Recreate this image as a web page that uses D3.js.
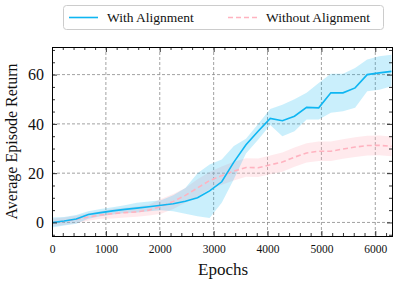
<!DOCTYPE html>
<meta charset="utf-8">
<style>
    body { margin: 0; background: #fff; }
    text { font-family: "Liberation Serif", "DejaVu Serif", serif; fill: #111; }
    .grid line { stroke: #8a8a8a; stroke-width: 0.8; stroke-dasharray: 3, 2; }
</style>
<svg id="mainSVG" width="398" height="284"></svg>
<script src="https://d3js.org/d3.v7.min.js"></script>
<script>
    // epochs at which both runs were evaluated
    var epochs = [0, 225, 450, 675, 900, 1125, 1350, 1575, 1800, 2025, 2250, 2475, 2700, 2925,
        3150, 3375, 3600, 3825, 4050, 4275, 4500, 4725, 4950, 5175, 5400, 5625, 5850, 6075, 6300];

    var withMean = [0.0, 0.6, 1.4, 3.2, 4.0, 4.7, 5.3, 5.8, 6.4, 7.0, 7.6, 8.6, 10.0, 12.8,
        16.5, 24.5, 31.5, 37.0, 42.2, 41.3, 43.1, 46.7, 46.5, 52.6, 52.6, 54.6, 60.0, 60.7, 61.3];
    var withLow = [-2.0, -1.2, -0.5, 1.5, 2.5, 3.2, 3.8, 4.0, 4.5, 5.0, 4.5, 3.5, 2.5, 1.8,
        8.0, 17.5, 28.0, 33.6, 39.5, 35.0, 37.0, 41.8, 41.8, 44.5, 45.1, 46.5, 53.2, 53.9, 55.3];
    var withHigh = [2.0, 2.2, 3.0, 4.5, 5.5, 6.2, 7.0, 8.0, 8.5, 9.0, 11.0, 14.0, 20.0, 23.5,
        25.5, 31.0, 34.0, 40.0, 46.0, 47.8, 50.0, 52.6, 56.6, 60.3, 60.3, 62.7, 66.1, 67.4, 68.1];

    var withoutMean = [0.0, 0.5, 1.2, 2.2, 3.0, 3.6, 4.0, 4.3, 5.0, 6.5, 8.5, 11.0, 14.0, 17.0,
        19.0, 20.8, 22.3, 22.2, 23.4, 24.5, 26.5, 28.2, 28.9, 28.9, 29.8, 30.6, 31.2, 31.3, 30.9];
    var withoutLow = [-1.5, -1.0, -0.3, 0.7, 1.5, 1.6, 2.0, 2.3, 2.8, 3.5, 5.5, 8.0, 10.5, 13.5,
        15.3, 17.0, 18.5, 18.4, 19.6, 20.6, 22.6, 24.3, 24.9, 24.9, 25.8, 26.6, 27.2, 27.3, 26.9];
    var withoutHigh = [1.5, 2.0, 2.7, 3.7, 4.5, 5.6, 6.0, 6.5, 7.2, 9.5, 11.5, 14.0, 17.5, 20.5,
        22.7, 24.6, 26.1, 26.0, 27.2, 28.4, 30.4, 32.1, 32.9, 32.9, 33.8, 34.6, 35.2, 35.3, 34.9];

    var xTicks = [0, 1000, 2000, 3000, 4000, 5000, 6000];
    var yTicks = [0, 20, 40, 60];
    var seriesNames = ["With Alignment", "Without Alignment"];

    var svg = d3.select("svg"),
        margin = {top: 47, right: 6, bottom: 48, left: 52},
        width = +svg.attr("width") - margin.left - margin.right,
        height = +svg.attr("height") - margin.top - margin.bottom;

    var blue = "#0fb6f2",
        pink = "#ffb3c0";

    var x = d3.scaleLinear().domain([0, 6310]).range([0, width]);
    var y = d3.scaleLinear().domain([-5.5, 71.2]).range([height, 0]);

    var g = svg.append("g").attr("transform", "translate(" + margin.left + "," + margin.top + ")");

    // dashed grid at major ticks
    var grid = g.append("g").attr("class", "grid");
    grid.selectAll(".gx").data(xTicks.slice(1)).enter().append("line")
        .attr("x1", function (d) { return x(d); }).attr("x2", function (d) { return x(d); })
        .attr("y1", 0).attr("y2", height);
    grid.selectAll(".gy").data(yTicks).enter().append("line")
        .attr("x1", 0).attr("x2", width)
        .attr("y1", function (d) { return y(d); }).attr("y2", function (d) { return y(d); });

    var series = [
        {mean: withMean, low: withLow, high: withHigh, color: blue, fill: 0.22, dash: null},
        {mean: withoutMean, low: withoutLow, high: withoutHigh, color: pink, fill: 0.28, dash: "5,3"}
    ];

    var area = function (s) {
        return d3.area()
            .x(function (d, i) { return x(epochs[i]); })
            .y0(function (d, i) { return y(s.low[i]); })
            .y1(function (d, i) { return y(s.high[i]); });
    };
    var line = d3.line()
        .x(function (d, i) { return x(epochs[i]); })
        .y(function (d) { return y(d); });

    // draw pink first so blue sits on top
    [series[1], series[0]].forEach(function (s) {
        g.append("path").datum(s.mean)
            .attr("d", area(s))
            .attr("fill", s.color)
            .attr("fill-opacity", s.fill);
    });
    [series[1], series[0]].forEach(function (s) {
        g.append("path").datum(s.mean)
            .attr("d", line)
            .attr("fill", "none")
            .attr("stroke", s.color)
            .attr("stroke-width", 1.6)
            .attr("stroke-dasharray", s.dash);
    });

    // axes: ticks inward on all four sides, with minor ticks
    var xMinor = d3.range(0, 6301, 200).filter(function (d) { return d % 1000 !== 0; });
    var yMinor = d3.range(-5, 71, 5).filter(function (d) { return d % 20 !== 0; });

    var axBottom = g.append("g").attr("transform", "translate(0," + height + ")")
        .call(d3.axisBottom(x).tickValues(xTicks).tickSize(-5).tickPadding(9).tickFormat(d3.format("d")));
    axBottom.append("g").call(d3.axisBottom(x).tickValues(xMinor).tickSize(-3).tickFormat(""));
    var axTop = g.append("g")
        .call(d3.axisTop(x).tickValues(xTicks).tickSize(-5).tickFormat(""));
    axTop.append("g").call(d3.axisTop(x).tickValues(xMinor).tickSize(-3).tickFormat(""));

    var axLeft = g.append("g")
        .call(d3.axisLeft(y).tickValues(yTicks).tickSize(-5).tickPadding(8));
    axLeft.append("g").call(d3.axisLeft(y).tickValues(yMinor).tickSize(-3).tickFormat(""));
    var axRight = g.append("g").attr("transform", "translate(" + width + ",0)")
        .call(d3.axisRight(y).tickValues(yTicks).tickSize(-5).tickFormat(""));
    axRight.append("g").call(d3.axisRight(y).tickValues(yMinor).tickSize(-3).tickFormat(""));

    g.selectAll(".domain").attr("stroke", "#000").attr("stroke-width", 1);
    g.selectAll(".tick line").attr("stroke", "#000").attr("stroke-width", 0.8);
    axBottom.selectAll("text").style("font-family", "Liberation Serif").style("font-size", "11.5px").attr("fill", "#111");
    axLeft.selectAll("text").style("font-family", "Liberation Serif").style("font-size", "16px").attr("fill", "#111");

    // axis titles
    svg.append("text")
        .attr("x", margin.left + x(3175))
        .attr("y", 275)
        .attr("text-anchor", "middle")
        .style("font-size", "17px")
        .text("Epochs");
    svg.append("text")
        .attr("transform", "translate(17," + (margin.top + height / 2) + ") rotate(-90)")
        .attr("text-anchor", "middle")
        .style("font-size", "16px")
        .text("Average Episode Return");

    // legend
    var legend = svg.append("g");
    legend.append("rect")
        .attr("x", 63.5).attr("y", 5.5)
        .attr("width", 320).attr("height", 24)
        .attr("rx", 3)
        .attr("fill", "#fff").attr("fill-opacity", 0.85)
        .attr("stroke", "#cccccc").attr("stroke-width", 1);
    var legendX = [69, 228];
    seriesNames.forEach(function (name, i) {
        legend.append("line")
            .attr("x1", legendX[i]).attr("x2", legendX[i] + 29)
            .attr("y1", 17.5).attr("y2", 17.5)
            .attr("stroke", series[i].color)
            .attr("stroke-width", 1.6)
            .attr("stroke-dasharray", series[i].dash);
        legend.append("text")
            .attr("x", legendX[i] + 38)
            .attr("y", 22)
            .style("font-size", "13.5px")
            .text(name);
    });
</script>
